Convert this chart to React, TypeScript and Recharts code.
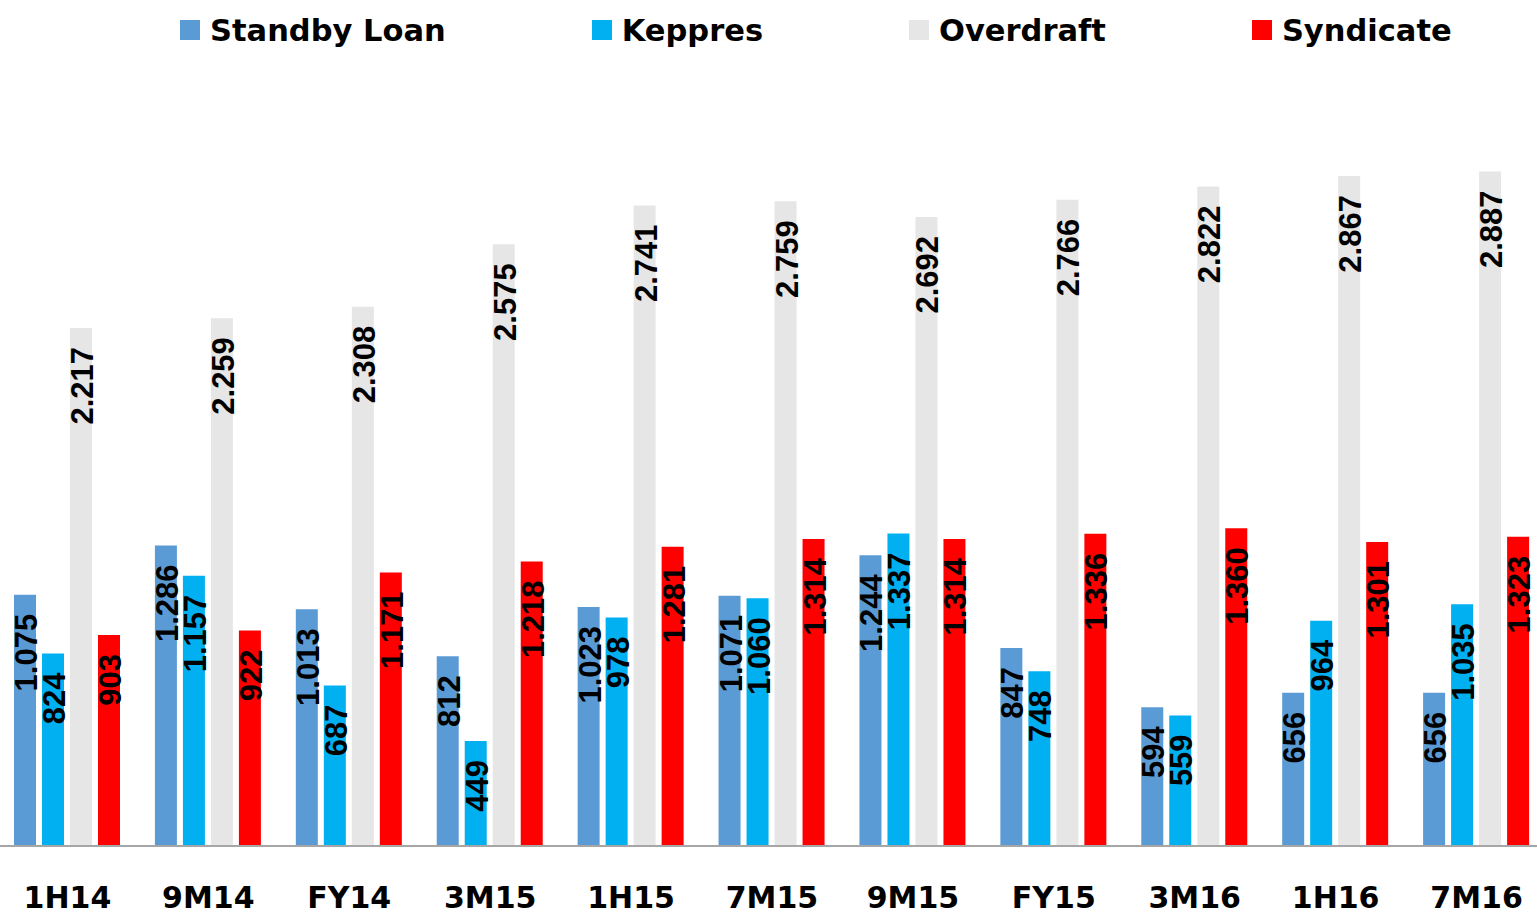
import { BarChart, Bar, XAxis, YAxis, LabelList } from "recharts";

const periods = ["1H14", "9M14", "FY14", "3M15", "1H15", "7M15", "9M15", "FY15", "3M16", "1H16", "7M16"];
const standbyLoan = [1075, 1286, 1013, 812, 1023, 1071, 1244, 847, 594, 656, 656];
const keppres = [824, 1157, 687, 449, 978, 1060, 1337, 748, 559, 964, 1035];
const overdraft = [2217, 2259, 2308, 2575, 2741, 2759, 2692, 2766, 2822, 2867, 2887];
const syndicate = [903, 922, 1171, 1218, 1281, 1314, 1314, 1336, 1360, 1301, 1323];

const series = [
  { key: "standby", name: "Standby Loan", color: "#5B9BD5" },
  { key: "keppres", name: "Keppres", color: "#00B0F0" },
  { key: "overdraft", name: "Overdraft", color: "#E6E6E6" },
  { key: "syndicate", name: "Syndicate", color: "#FF0000" },
];

const data = periods.map((p, i) => ({
  period: p,
  standby: standbyLoan[i],
  keppres: keppres[i],
  overdraft: overdraft[i],
  syndicate: syndicate[i],
}));

const arial = "'Liberation Sans', Arial, sans-serif";
const dejavu = "'DejaVu Sans', sans-serif";

// 1075 -> "1.075"
const fmt = (v: number) => String(v).replace(/\B(?=(\d{3})+(?!\d))/g, ".");

const ValueLabel = (props: any) => {
  const { x, y, width, value } = props;
  const lx = x + width + 1;
  const ly = y + 19;
  return (
    <text
      x={lx}
      y={ly}
      transform={`rotate(-90, ${lx}, ${ly})`}
      textAnchor="end"
      fontFamily={arial}
      fontWeight="bold"
      fontSize={31}
      fill="#000"
    >
      {fmt(value)}
    </text>
  );
};

const PeriodTick = (props: any) => {
  const { x, y, payload } = props;
  return (
    <text x={x} y={y} dy={54} textAnchor="middle" fontFamily={dejavu} fontWeight="bold" fontSize={30} fill="#000">
      {payload.value}
    </text>
  );
};

export default function App() {
  return (
    <div style={{ position: "absolute", left: 0, top: 0, width: 1537, height: 916, overflow: "hidden", background: "#fff" }}>
      <div
        style={{
          position: "absolute",
          top: 10,
          left: 0,
          height: 40,
          display: "flex",
          alignItems: "center",
          paddingLeft: 180,
          gap: 146,
          fontFamily: dejavu,
          fontWeight: "bold",
          fontSize: 30.5,
          whiteSpace: "nowrap",
        }}
      >
        {series.map((s) => (
          <div key={s.key} style={{ display: "flex", alignItems: "center" }}>
            <span style={{ display: "inline-block", width: 20, height: 20, background: s.color, marginRight: 10 }} />
            <span>{s.name}</span>
          </div>
        ))}
      </div>
      <div style={{ position: "absolute", left: -3, top: 0 }}>
        <BarChart width={1550} height={916} data={data} margin={{ top: 145, right: 0, bottom: 0, left: 0 }} barGap={6}>
          <XAxis
            dataKey="period"
            height={70}
            tickLine={false}
            axisLine={{ stroke: "#A6A6A6", strokeWidth: 2 }}
            tick={<PeriodTick />}
            interval={0}
          />
          <YAxis hide domain={[0, 3000]} />
          {series.map((s) => (
            <Bar key={s.key} dataKey={s.key} name={s.name} fill={s.color} barSize={22} isAnimationActive={false}>
              <LabelList dataKey={s.key} content={<ValueLabel />} />
            </Bar>
          ))}
        </BarChart>
      </div>
    </div>
  );
}
